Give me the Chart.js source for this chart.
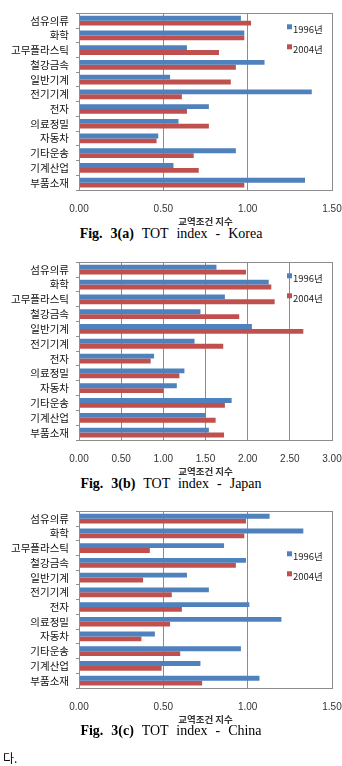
<!DOCTYPE html>
<html><head><meta charset="utf-8">
<script src="https://cdn.jsdelivr.net/npm/chart.js@4/dist/chart.umd.min.js"></script>
<style>
html,body{margin:0;padding:0;background:#fff;width:342px;height:766px;overflow:hidden;}
canvas{position:absolute;left:0;}
.cap{position:absolute;left:0;width:342px;text-align:center;font-family:"Liberation Serif",serif;font-size:14px;word-spacing:0.5px;white-space:pre;color:#000;line-height:16px;}
.cap b{font-weight:bold;}
#tail{position:absolute;left:3px;top:749px;font-family:"Noto Sans CJK KR",sans-serif;font-size:12px;color:#000;}
</style></head>
<body>
<canvas id="c1" width="342" height="226" style="top:0px"></canvas>
<canvas id="c2" width="342" height="227" style="top:249px"></canvas>
<canvas id="c3" width="342" height="226" style="top:498px"></canvas>
<div class="cap" style="top:226px"><b>Fig.  3(a)</b>  TOT  index  -  Korea</div>
<div class="cap" style="top:476px"><b>Fig.  3(b)</b>  TOT  index  -  Japan</div>
<div class="cap" style="top:723px"><b>Fig.  3(c)</b>  TOT  index  -  China</div>
<div id="tail">다.</div>
<script>
const categories = ['섬유의류','화학','고무플라스틱','철강금속','일반기계','전기기계','전자','의료정밀','자동차','기타운송','기계산업','부품소재'];
const seriesNames = ['1996년','2004년'];
const korea1996 = [0.96,0.98,0.64,1.10,0.54,1.38,0.77,0.59,0.47,0.93,0.56,1.34];
const korea2004 = [1.02,0.98,0.83,0.93,0.90,0.61,0.64,0.77,0.46,0.68,0.71,0.98];
const japan1996 = [1.63,2.25,1.73,1.44,2.05,1.37,0.89,1.25,1.16,1.81,1.50,1.54];
const japan2004 = [1.98,2.28,2.32,1.90,2.66,1.71,0.85,1.19,1.00,1.73,1.62,1.72];
const china1996 = [1.13,1.33,0.86,0.99,0.64,0.77,1.01,1.20,0.45,0.96,0.72,1.07];
const china2004 = [0.99,0.98,0.42,0.93,0.38,0.55,0.61,0.54,0.37,0.60,0.49,0.73];
const xRange = {korea:[0,1.5], japan:[0,3], china:[0,1.5]};
const axisTitle = '교역조건 지수';

const BLUE = '#4F81BD', RED = '#C0504D', GRID = '#8c8c8c';

const frame = {
  id:'frame',
  afterDatasetsDraw(chart){
    const a = chart.chartArea, ctx = chart.ctx;
    ctx.save();
    ctx.strokeStyle = GRID; ctx.lineWidth = 1;
    ctx.strokeRect(Math.round(a.left)+0.5, Math.round(a.top)+0.5, Math.round(a.right-a.left), Math.round(a.bottom-a.top));
    const lo = chart.options.plugins.innerLegend;
    ctx.font = '9.5px "Noto Sans CJK KR", sans-serif';
    ctx.textBaseline = 'middle';
    chart.data.datasets.forEach((ds,i)=>{
      const y = a.top + lo.top + i*20;
      ctx.fillStyle = ds.backgroundColor;
      ctx.fillRect(lo.x, y-5, 5, 5);
      ctx.fillStyle = '#222';
      ctx.fillText(ds.label, lo.x+6, y);
    });
    ctx.restore();
  }
};

function make(id, d1, d2, range, legTop){
  new Chart(document.getElementById(id), {
    type:'bar',
    data:{labels:categories, datasets:[
      {label:seriesNames[0], data:d1, backgroundColor:BLUE, borderWidth:0, categoryPercentage:0.66, barPercentage:1.0},
      {label:seriesNames[1], data:d2, backgroundColor:RED, borderWidth:0, categoryPercentage:0.66, barPercentage:1.0}
    ]},
    options:{
      indexAxis:'y', responsive:false, animation:false, devicePixelRatio:1,
      layout:{padding:{top:10,right:0,left:0,bottom:0}},
      plugins:{legend:{display:false}, tooltip:{enabled:false}, innerLegend:{x:287, top:legTop}},
      scales:{
        x:{min:range[0], max:range[1], afterFit(s){s.height=36; s.paddingRight=10; s.paddingLeft=0;},
           ticks:{stepSize:0.5, padding:13, color:'#333', font:{family:'"Liberation Sans", sans-serif', size:10}, callback:v=>Number(v).toFixed(2)},
           grid:{color:GRID, drawTicks:false}, border:{color:GRID},
           title:{display:true, text:axisTitle, color:'#333', font:{family:'"Noto Sans CJK KR", sans-serif', size:9.5, weight:'bold'}, padding:{top:0,bottom:-1}}},
        y:{afterFit(s){s.width=79;},
           ticks:{autoSkip:false, padding:7, color:'#111', font:{family:'"Noto Sans CJK KR", sans-serif', size:10.5}},
           grid:{drawOnChartArea:false, tickLength:3, color:GRID}, border:{color:GRID}}
      }
    },
    plugins:[frame]
  });
}
make('c1', korea1996, korea2004, xRange.korea, 16);
make('c2', japan1996, japan2004, xRange.japan, 16);
make('c3', china1996, china2004, xRange.china, 45);
</script>
</body></html>
